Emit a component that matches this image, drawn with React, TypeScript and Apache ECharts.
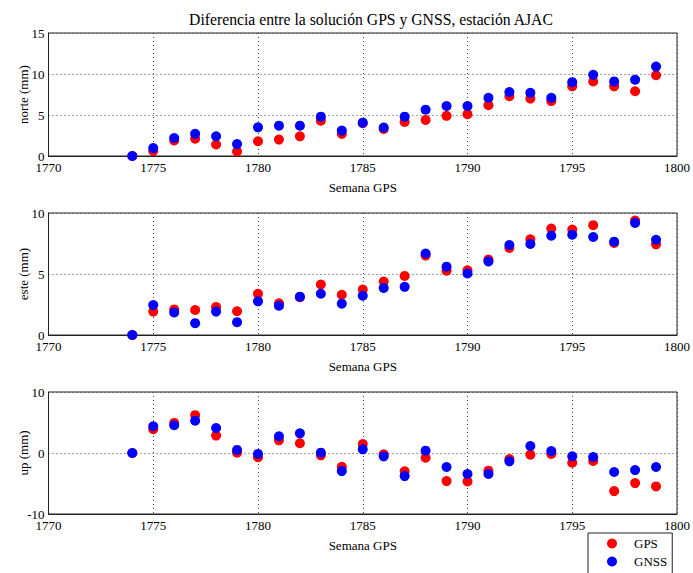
import React, { useEffect, useRef } from "react";
import * as echarts from "echarts";

const weeks = [1774, 1775, 1776, 1777, 1778, 1779, 1780, 1781, 1782, 1783, 1784, 1785, 1786, 1787, 1788, 1789, 1790, 1791, 1792, 1793, 1794, 1795, 1796, 1797, 1798, 1799];

const norteGPS = [0, 0.6, 1.9, 2.1, 1.4, 0.56, 1.8, 2.0, 2.4, 4.3, 2.7, 4.0, 3.3, 4.15, 4.4, 4.9, 5.1, 6.2, 7.3, 7.0, 6.7, 8.5, 9.1, 8.5, 7.9, 9.85];
const norteGNSS = [0, 0.97, 2.2, 2.7, 2.4, 1.45, 3.5, 3.7, 3.7, 4.8, 3.1, 4.07, 3.47, 4.8, 5.65, 6.1, 6.1, 7.1, 7.8, 7.7, 7.1, 9.0, 9.9, 9.1, 9.3, 10.9];

const esteGPS = [0, 1.92, 2.1, 2.05, 2.3, 1.95, 3.38, 2.6, 3.1, 4.14, 3.3, 3.73, 4.38, 4.84, 6.51, 5.27, 5.3, 6.19, 7.14, 7.84, 8.73, 8.65, 9.0, 7.54, 9.38, 7.43];
const esteGNSS = [0, 2.45, 1.85, 0.97, 1.92, 1.05, 2.76, 2.4, 3.14, 3.38, 2.57, 3.22, 3.86, 3.95, 6.68, 5.6, 5.05, 6.03, 7.38, 7.46, 8.14, 8.22, 8.03, 7.65, 9.19, 7.81];

const upGPS = [0, 3.9, 4.93, 6.2, 2.85, 0.05, -0.7, 2.08, 1.6, -0.38, -2.25, 1.48, -0.2, -3.0, -0.77, -4.6, -4.66, -2.9, -1.0, -0.27, -0.16, -1.59, -1.3, -6.25, -4.93, -5.48];
const upGNSS = [0, 4.38, 4.55, 5.3, 4.1, 0.5, -0.15, 2.74, 3.23, 0.05, -2.96, 0.6, -0.55, -3.78, 0.38, -2.3, -3.45, -3.45, -1.37, 1.15, 0.33, -0.55, -0.66, -3.12, -2.8, -2.3];

const titleText = "Diferencia entre la solución GPS y GNSS, estación AJAC";
const xName = "Semana GPS";
const yNames = ["norte (mm)", "este (mm)", "up (mm)"];
const yRanges = [
  [0, 15, 5],
  [0, 10, 5],
  [-10, 10, 10],
];
const seriesNames = ["GPS", "GNSS"];

const FONT = "'Liberation Serif', 'Times New Roman', serif";

export default function App() {
  const ref = useRef<HTMLDivElement>(null);
  useEffect(() => {
    if (!ref.current) return;
    const chart = echarts.init(ref.current, undefined, { renderer: "svg" });
    const tops = [33, 213, 392];
    const heights = [123, 122, 122];
    const grids = tops.map((t, i) => ({
      left: 48.5,
      top: t,
      width: 634,
      height: heights[i],
      show: true,
      borderColor: "#222",
      borderWidth: 1,
      backgroundColor: "transparent",
    }));
    const xAxes = tops.map((_, i) => ({
      type: "value",
      gridIndex: i,
      min: 1770,
      max: 1800,
      interval: 5,
      name: xName,
      nameLocation: "middle",
      nameGap: 25,
      nameMoveOverlap: false,
      nameTextStyle: { fontFamily: FONT, fontSize: 13, color: "#000" },
      axisLine: { show: true, onZero: false, lineStyle: { color: "#222", width: 1 } },
      axisTick: { show: false },
      axisLabel: {
        fontFamily: FONT,
        fontSize: 13,
        color: "#000",
        margin: 5,
        formatter: (v: number) => String(v),
      },
      splitLine: { show: true, lineStyle: { type: [1, 3], color: "#444", width: 1 } },
    }));
    const yAxes = tops.map((_, i) => ({
      type: "value",
      gridIndex: i,
      min: yRanges[i][0],
      max: yRanges[i][1],
      interval: yRanges[i][2],
      name: yNames[i],
      nameLocation: "middle",
      nameGap: 19,
      nameMoveOverlap: false,
      nameRotate: 90,
      nameTextStyle: { fontFamily: FONT, fontSize: 13, color: "#000" },
      axisLine: { show: true, onZero: false, lineStyle: { color: "#222", width: 1 } },
      axisTick: { show: false },
      axisLabel: { fontFamily: FONT, fontSize: 13, color: "#000", margin: 4 },
      splitLine: { show: true, lineStyle: { type: [1, 3], color: "#444", width: 1 } },
    }));
    const data = [
      [norteGPS, norteGNSS],
      [esteGPS, esteGNSS],
      [upGPS, upGNSS],
    ];
    const colors = ["#ff0000", "#0000ff"];
    const series: any[] = [];
    data.forEach((pair, gi) => {
      pair.forEach((vals, si) => {
        series.push({
          type: "scatter",
          name: seriesNames[si],
          xAxisIndex: gi,
          yAxisIndex: gi,
          symbol: "circle",
          symbolSize: 10,
          itemStyle: { color: colors[si], opacity: 1 },
          data: weeks.map((w, k) => [w, vals[k]]),
          z: 2 + si,
        });
      });
    });
    chart.setOption({
      animation: false,
      title: {
        text: titleText,
        left: 366,
        textAlign: "center",
        top: 6,
        textStyle: { fontFamily: FONT, fontSize: 15.7, fontWeight: "normal", color: "#000" },
      },
      legend: {
        data: seriesNames,
        orient: "vertical",
        left: 588,
        top: 533,
        height: 60,
        icon: "circle",
        itemWidth: 10,
        itemHeight: 10,
        itemGap: 5,
        padding: [4, 5, 6, 19],
        borderColor: "#222",
        borderWidth: 1,
        backgroundColor: "#fff",
        textStyle: { fontFamily: FONT, fontSize: 13, color: "#000", padding: [0, 0, 0, 12] },
      },
      grid: grids,
      xAxis: xAxes,
      yAxis: yAxes,
      series,
    });
    return () => chart.dispose();
  }, []);
  return (
    <div
      ref={ref}
      style={{ position: "fixed", left: 0, top: 0, width: 693, height: 573, background: "#fff" }}
    />
  );
}
